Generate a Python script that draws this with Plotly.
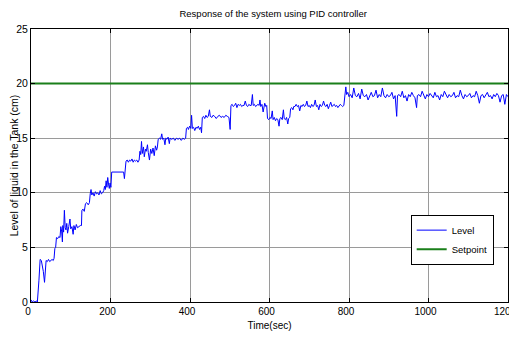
import plotly.graph_objects as go

# ---- data ----
time_sec = [
    0, 3, 6, 10, 14, 16, 20, 23, 26, 29, 31, 34, 36, 38, 41, 44, 47, 50, 53, 56, 58,
    60, 62, 64, 67, 70, 73, 75, 77, 79, 80, 82, 84, 86, 88, 90, 92, 95, 98, 100,
    103, 106, 108, 111, 114, 117, 120, 124, 127, 128, 131, 134, 137, 140, 144, 147,
    149, 151, 153, 156, 159, 162, 165, 168, 171, 174, 177, 180, 183, 185, 187, 189,
    191, 193, 195, 197, 199, 201, 203, 206, 215, 225, 233, 235, 237, 239, 242, 245,
    248, 251, 254, 257, 260, 263, 266, 269, 272, 274, 276, 278, 280, 283, 285, 288,
    290, 293, 295, 298, 301, 304, 307, 310, 313, 316, 318, 320, 323, 326, 329, 331,
    334, 337, 339, 342, 345, 348, 350, 354, 358, 362, 366, 370, 374, 378, 382, 386,
    389, 391, 394, 396, 399, 402, 404, 406, 409, 412, 415, 418, 421, 424, 427, 429,
    431, 434, 437, 440, 443, 446, 449, 451, 455, 458, 462, 466, 470, 474, 478, 482,
    486, 490, 494, 498, 501, 503, 506, 509, 512, 515, 518, 521, 524, 527, 530, 533,
    536, 539, 542, 545, 548, 551, 554, 557, 559, 562, 565, 568, 571, 574, 576, 578,
    581, 584, 586, 588, 591, 593, 595, 598, 601, 604, 607, 609, 612, 615, 618, 621,
    624, 626, 629, 632, 635, 637, 640, 643, 646, 648, 651, 653, 656, 659, 661, 664,
    667, 670, 673, 676, 679, 682, 685, 688, 691, 694, 697, 700, 703, 706, 709, 712,
    715, 718, 721, 724, 727, 730, 733, 736, 739, 742, 745, 748, 751, 754, 757, 760,
    763, 766, 769, 772, 775, 778, 781, 784, 787, 790, 792, 794, 797,
    800, 804, 808, 812, 816, 820, 824, 828, 832, 836, 840, 844, 848, 852, 856, 860,
    864, 868, 872, 876, 880, 884, 888, 892, 896, 900, 904, 908, 912, 916, 920, 922,
    926, 930, 934, 938, 942, 946, 950, 954, 958, 962, 966, 970, 972, 976, 980, 984,
    988, 992, 996, 1000, 1004, 1008, 1012, 1016, 1020, 1024, 1028, 1032, 1036, 1040,
    1044, 1048, 1052, 1056, 1060, 1064, 1068, 1072, 1076, 1080, 1084, 1088, 1092,
    1096, 1100, 1104, 1108, 1112, 1116, 1120, 1124, 1128, 1132, 1136, 1140, 1144,
    1148, 1152, 1156, 1160, 1164, 1168, 1172, 1176, 1180, 1184, 1188, 1192, 1196, 1200,
]
level_cm = [
    0.2, 0.0, 0.1, 0.0, 0.1, 0.0, 2.0, 3.9, 3.8, 3.2, 2.8, 1.8, 2.9, 3.8, 3.7, 3.9, 3.7, 3.8, 3.9, 3.8, 4.0,
    4.9, 5.0, 5.9, 5.8, 6.0, 5.9, 6.9, 6.5, 5.5, 7.0, 6.4, 8.4, 6.8, 6.6, 7.2, 6.3, 6.9, 7.6, 6.7,
    6.9, 6.2, 7.0, 6.6, 7.1, 6.8, 6.9, 7.0, 7.0, 8.4, 8.5, 8.3, 9.0, 9.1, 8.9, 9.1,
    9.9, 10.3, 9.8, 10.0, 9.7, 10.1, 9.9, 10.0, 9.8, 10.2, 9.9, 10.0, 10.2, 10.6, 10.3, 11.1,
    10.5, 11.4, 10.8, 10.4, 10.9, 10.5, 11.9, 11.9, 11.95, 11.9, 11.9, 11.3, 11.9, 12.9, 13.0, 12.8,
    13.0, 12.9, 13.1, 12.8, 13.0, 12.9, 13.0, 12.8, 13.0, 13.8, 13.5, 14.7, 13.6, 14.2, 13.3, 14.0,
    13.8, 14.4, 13.7, 13.0, 14.0, 13.6, 14.1, 13.4, 14.3, 13.9, 14.2, 14.9, 15.0, 14.9, 15.4, 14.9,
    15.0, 14.4, 15.0, 14.9, 15.1, 14.5, 15.0, 14.9, 15.0, 14.8, 15.0, 14.9, 15.0, 14.8, 15.0, 14.9,
    15.0, 15.9, 16.0, 15.8, 16.1, 15.9, 17.1, 15.9, 16.0, 15.7, 16.0, 15.9, 16.1, 15.8, 16.0, 15.5,
    16.9, 17.0, 16.8, 17.1, 16.9, 17.0, 17.6, 17.0, 16.9, 17.1, 17.0, 16.8, 17.0, 17.1, 16.9, 17.0,
    16.9, 17.1, 17.0, 16.9, 15.8, 18.0, 18.1, 17.9, 18.0, 18.2, 17.8, 18.1, 18.0, 18.1, 17.9, 18.0,
    18.0, 18.4, 18.0, 17.9, 18.1, 18.0, 18.0, 19.0, 18.0, 18.1, 17.9, 18.0, 18.1, 18.0, 18.5, 17.9,
    18.1, 17.4, 18.0, 18.2, 17.9, 18.0, 16.8, 16.7, 16.9, 16.8, 17.5, 16.7, 16.9, 16.6, 16.8, 16.7,
    16.1, 16.8, 16.9, 16.7, 17.6, 16.8, 16.7, 16.9, 16.3, 16.8, 16.9, 17.7, 17.8, 17.6, 17.9, 17.9,
    18.1, 17.9, 18.0, 17.5, 18.0, 17.9, 18.1, 17.9, 18.0, 18.4, 17.9, 18.0, 17.8, 18.1, 17.9, 18.0,
    18.5, 17.9, 18.0, 17.6, 18.1, 17.9, 18.0, 18.4, 18.0, 17.9, 18.1, 17.7, 18.0, 18.3, 17.9, 18.0,
    18.1, 17.9, 18.0, 17.8, 18.0, 18.1, 18.0, 17.9, 18.0, 19.3, 19.7, 19.0, 19.2,
    18.8, 19.0, 18.7, 19.6, 18.9, 18.8, 19.1, 18.6, 19.5, 18.9, 18.8, 19.0, 18.5, 18.9, 19.2, 18.8,
    18.9, 19.4, 18.7, 19.0, 18.8, 19.6, 18.9, 18.7, 19.0, 18.8, 18.9, 19.2, 18.6, 18.9, 17.0, 18.9,
    19.0, 18.8, 19.3, 18.7, 18.9, 18.4, 19.0, 18.8, 19.2, 18.9, 18.7, 17.8, 18.9, 19.0, 18.8, 19.3,
    18.9, 18.6, 19.0, 18.8, 19.1, 18.9, 18.7, 19.2, 18.8, 18.9, 18.5, 19.0, 18.8, 19.3,
    18.9, 18.7, 19.0, 18.8, 18.9, 19.2, 18.7, 18.9, 18.8, 19.4, 18.9, 18.6, 19.0,
    18.8, 18.9, 19.1, 18.7, 18.9, 18.8, 19.3, 18.9, 18.2, 18.9, 19.0, 18.7, 18.9,
    19.2, 18.8, 18.9, 18.6, 19.0, 18.8, 19.1, 18.9, 18.3, 18.9, 19.0, 18.1, 19.0, 18.8,
]
setpoint_time = [0, 1200]
setpoint_cm = [20, 20]

x_ticks = [0, 200, 400, 600, 800, 1000, 1200]
x_tick_labels = ["0", "200", "400", "600", "800", "1000", "1200"]
y_ticks = [0, 5, 10, 15, 20, 25]
y_tick_labels = ["0", "5", "10", "15", "20", "25"]

FONT = "Liberation Sans, Arial, sans-serif"

# the page places the figure 8px in from the top-left corner of the window;
# keep the page within the window so that no scrollbar appears
FIG_W, FIG_H = 509, 324

fig = go.Figure()
fig.add_trace(go.Scatter(x=time_sec, y=level_cm, mode="lines", name="Level",
                         line=dict(color="#0000ff", width=1)))
fig.add_trace(go.Scatter(x=setpoint_time, y=setpoint_cm, mode="lines", name="Setpoint",
                         line=dict(color="#1a7f1a", width=2)))

axis_common = dict(showline=True, linecolor="black", linewidth=1, mirror="ticks",
                   ticks="inside", ticklen=4, tickcolor="black", automargin=False,
                   showgrid=True, gridcolor="#9a9a9a", gridwidth=1, zeroline=False,
                   ticklabeloverflow="allow")

fig.update_xaxes(range=[0, 1200], tickvals=x_ticks, ticktext=x_tick_labels,
                 tickfont=dict(family=FONT, size=10, color="black"),
                 ticklabelshift=-3,
                 title=dict(text="Time(sec)", font=dict(family=FONT, size=10, color="black"),
                            standoff=5),
                 **axis_common)
fig.update_yaxes(range=[0, 25], tickvals=y_ticks, ticktext=y_tick_labels,
                 tickfont=dict(family=FONT, size=10.5, color="black"),
                 title=dict(text="Level of liquid in the Tank (cm)",
                            font=dict(family=FONT, size=10.5, color="black"), standoff=5),
                 **axis_common)

fig.update_layout(
    width=FIG_W, height=FIG_H,
    margin=dict(l=23, r=9, t=21, b=30, autoexpand=False),
    paper_bgcolor="white", plot_bgcolor="white",
    title=dict(text="Response of the system using PID controller",
               font=dict(family=FONT, size=9.5, color="black"),
               x=0.521, xanchor="center", y=1 - 6 / FIG_H, yanchor="middle",
               automargin=False),
    showlegend=True,
    legend=dict(x=0.97, y=0.32, xanchor="right", yanchor="top",
                bgcolor="white", bordercolor="black", borderwidth=1,
                font=dict(family=FONT, size=9.5, color="black"),
                tracegroupgap=0, itemwidth=30),
)

fig.write_html("out.html")
